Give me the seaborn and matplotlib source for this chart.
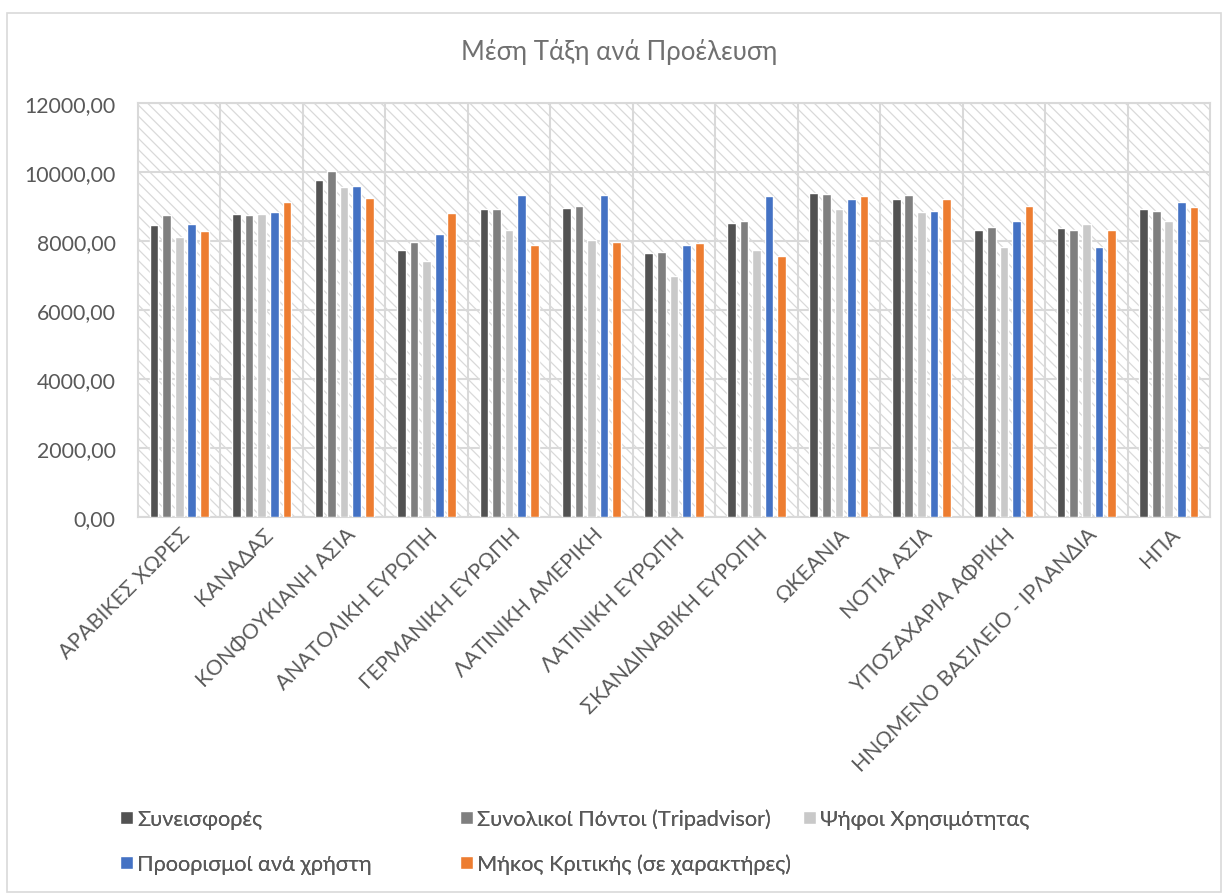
import matplotlib
matplotlib.use("Agg")
import matplotlib.pyplot as plt
import matplotlib.transforms as mtransforms
from matplotlib.patches import Rectangle
from matplotlib.ticker import FuncFormatter, FixedLocator
import numpy as np
import pandas as pd
import seaborn as sns

# Regions of origin
regions = [
    "ΑΡΑΒΙΚΕΣ ΧΩΡΕΣ", "ΚΑΝΑΔΑΣ", "ΚΟΝΦΟΥΚΙΑΝΗ ΑΣΙΑ", "ΑΝΑΤΟΛΙΚΗ ΕΥΡΩΠΗ",
    "ΓΕΡΜΑΝΙΚΗ ΕΥΡΩΠΗ", "ΛΑΤΙΝΙΚΗ ΑΜΕΡΙΚΗ", "ΛΑΤΙΝΙΚΗ ΕΥΡΩΠΗ",
    "ΣΚΑΝΔΙΝΑΒΙΚΗ ΕΥΡΩΠΗ", "ΩΚΕΑΝΙΑ", "ΝΟΤΙΑ ΑΣΙΑ", "ΥΠΟΣΑΧΑΡΙΑ ΑΦΡΙΚΗ",
    "ΗΝΩΜΕΝΟ ΒΑΣΙΛΕΙΟ - ΙΡΛΑΝΔΙΑ", "ΗΠΑ",
]

# Mean rank per metric
contributions = [8470, 8780, 9765, 7750, 8915, 8965, 7655, 8525, 9405, 9215, 8315, 8390, 8915]
total_points = [8765, 8755, 10030, 7980, 8935, 9020, 7695, 8580, 9365, 9345, 8420, 8315, 8880]
helpful_votes = [8125, 8775, 9575, 7420, 8315, 8040, 6980, 7725, 8915, 8830, 7840, 8505, 8575]
destinations = [8495, 8830, 9605, 8190, 9325, 9345, 7885, 9305, 9230, 8880, 8575, 7840, 9135]
review_length = [8295, 9125, 9250, 8820, 7895, 7970, 7950, 7560, 9305, 9210, 9020, 8315, 8975]

series_names = [
    "Συνεισφορές",
    "Συνολικοί Πόντοι (Tripadvisor)",
    "Ψήφοι Χρησιμότητας",
    "Προορισμοί ανά χρήστη",
    "Μήκος Κριτικής (σε χαρακτήρες)",
]
series_values = [contributions, total_points, helpful_votes, destinations, review_length]
colors = ["#525252", "#7f7f7f", "#c9c9c9", "#4472c4", "#ed7d31"]

df = pd.concat(
    [pd.DataFrame({"region": regions, "series": name, "value": vals})
     for name, vals in zip(series_names, series_values)],
    ignore_index=True,
)

sns.set_theme(style="white")
plt.rcParams["font.family"] = ["Lato", "Open Sans", "DejaVu Sans"]
plt.rcParams["hatch.color"] = "#d9d9d9"
plt.rcParams["hatch.linewidth"] = 0.9

text_color = "#595959"
grid_color = "#d9d9d9"

fig = plt.figure(figsize=(12.28, 8.95), dpi=100)
ax = fig.add_axes([138 / 1228, 1 - 518 / 895, (1210 - 138) / 1228, (518 - 104) / 895])

# Hatched plot area
ax.patch.set_facecolor("white")
ax.patch.set_hatch("\\\\\\")
ax.patch.set_edgecolor("#d9d9d9")

sns.barplot(
    data=df, x="region", y="value", hue="series",
    order=regions, hue_order=series_names, palette=colors,
    width=0.763, gap=0.31, saturation=1, ax=ax, zorder=3,
)

handles, labels = ax.get_legend_handles_labels()
if ax.get_legend() is not None:
    ax.get_legend().remove()

ax.set_ylim(0, 12000)
ax.set_xlim(-0.5, len(regions) - 0.5)
ax.set_yticks(np.arange(0, 12001, 2000))
ax.yaxis.set_major_formatter(FuncFormatter(lambda v, _: f"{v:.2f}".replace(".", ",")))
ax.xaxis.set_minor_locator(FixedLocator(np.arange(0.5, len(regions) - 0.5, 1)))

ax.set_axisbelow(True)
ax.grid(axis="y", which="major", color=grid_color, linewidth=1.5, zorder=1)
ax.grid(axis="x", which="minor", color=grid_color, linewidth=1.5, zorder=1)
ax.grid(axis="x", which="major", visible=False)
for sp in ax.spines.values():
    sp.set_visible(True)
    sp.set_color(grid_color)
    sp.set_linewidth(1.5)

ax.set_xlabel("")
ax.set_ylabel("")
ax.tick_params(axis="both", which="both", length=0, labelsize=15.3, labelcolor=text_color)
ax.tick_params(axis="y", pad=16)
ax.tick_params(axis="x", pad=12)
shift = mtransforms.ScaledTranslation(8 / 100, 3 / 100, fig.dpi_scale_trans)
for lbl in ax.get_xticklabels():
    lbl.set_rotation(45)
    lbl.set_ha("right")
    lbl.set_va("center")
    lbl.set_rotation_mode("anchor")
    lbl.set_transform(lbl.get_transform() + shift)

fig.text(619 / 1228, 1 - 52 / 895, "Μέση Τάξη ανά Προέλευση", ha="center", va="center",
         fontsize=18.5, color="#707070")

# Legend entries laid out on a fixed grid
legend_pos = [(120, 820), (460, 820), (803, 820), (120, 865), (460, 865)]
for h, l, (px, py) in zip(handles, labels, legend_pos):
    leg = fig.legend(
        [h], [l], loc="center left", bbox_to_anchor=(px / 1228, 1 - py / 895),
        bbox_transform=fig.transFigure, frameon=False, borderpad=0, borderaxespad=0,
        handlelength=0.58, handleheight=0.58, handletextpad=0.2, fontsize=15.7,
        labelcolor=text_color,
    )
    fig.add_artist(leg)

# Chart frame
fig.add_artist(Rectangle((7 / 1228, 2 / 895), 1214 / 1228, 879 / 895,
                         transform=fig.transFigure, fill=False,
                         edgecolor="#d9d9d9", linewidth=1.2))

fig.savefig("out.png", dpi=100)
